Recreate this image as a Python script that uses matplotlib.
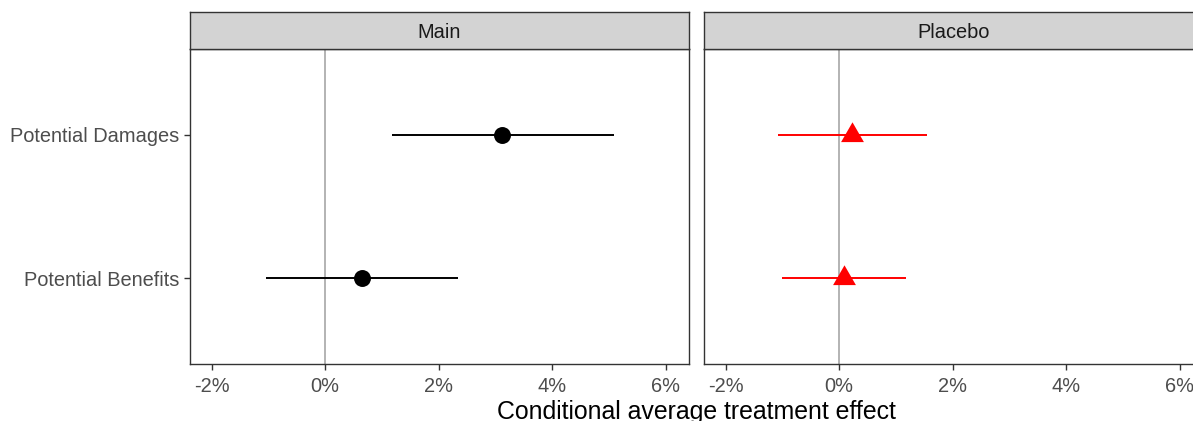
import numpy as np
import matplotlib.pyplot as plt
from matplotlib.path import Path

plt.rcParams['font.family'] = ['Liberation Sans', 'DejaVu Sans']

# Datos (en %)
categorias = ['Potential Benefits', 'Potential Damages']
paneles = ['Main', 'Placebo']

est_main = [0.65, 3.12]
lo_main = [-1.04, 1.18]
hi_main = [2.34, 5.09]

est_placebo = [0.09, 0.23]
lo_placebo = [-1.00, -1.07]
hi_placebo = [1.18, 1.55]

xticks = [-2, 0, 2, 4, 6]
xticklabels = ['-2%', '0%', '2%', '4%', '6%']

W, H = 1193, 421
fig = plt.figure(figsize=(W / 100, H / 100), dpi=100)

# triangulo centrado en su centroide (como ggplot shape 17)
tri = Path([(0, 1), (-0.866, -0.5), (0.866, -0.5), (0, 1)],
           [Path.MOVETO, Path.LINETO, Path.LINETO, Path.CLOSEPOLY])

datos = [
    (est_main, lo_main, hi_main, 'black', 'o', 12.2),
    (est_placebo, lo_placebo, hi_placebo, 'red', tri, 19),
]

lefts = [190, 704]
pw = 499
top, bottom = 49, 364
strip_top = 12
borde = '#333333'

for k, (est, lo, hi, col, mk, ms) in enumerate(datos):
    ax = fig.add_axes([lefts[k] / W, 1 - bottom / H, pw / W, (bottom - top) / H])
    y = np.arange(1, len(categorias) + 1)
    ax.axvline(0, color='#b3b3b3', lw=1.4, zorder=1)
    ax.hlines(y, lo, hi, color=col, lw=1.4, zorder=2)
    ax.plot(est, y, linestyle='none', marker=mk, markersize=ms,
            color=col, markeredgewidth=0, zorder=3)
    ax.set_xlim(-2.38, 6.41)
    ax.set_ylim(0.4, 2.6)
    ax.set_xticks(xticks)
    ax.set_xticklabels(xticklabels)
    ax.set_yticks(y)
    if k == 0:
        ax.set_yticklabels(categorias)
    else:
        ax.tick_params(axis='y', left=False, labelleft=False)
    ax.tick_params(labelsize=14.4, labelcolor='#4d4d4d', color=borde,
                   length=4.5, width=1.0)
    ax.tick_params(axis='x', pad=5)
    for s in ax.spines.values():
        s.set_color(borde)
        s.set_linewidth(1.0)

    # franja del panel
    sx = fig.add_axes([lefts[k] / W, 1 - top / H, pw / W, (top - strip_top) / H])
    sx.set_facecolor('#d3d3d3')
    sx.set_xticks([])
    sx.set_yticks([])
    for s in sx.spines.values():
        s.set_color(borde)
        s.set_linewidth(1.0)
    sx.text(0.5, 0.45, paneles[k], transform=sx.transAxes, ha='center',
            va='center', fontsize=14.4, color='#1a1a1a')

fig.text((190 + 704 + pw) / 2 / W, 0.005, 'Conditional average treatment effect',
         ha='center', va='baseline', fontsize=17.9, color='black')

plt.savefig('out.png', dpi=100)
